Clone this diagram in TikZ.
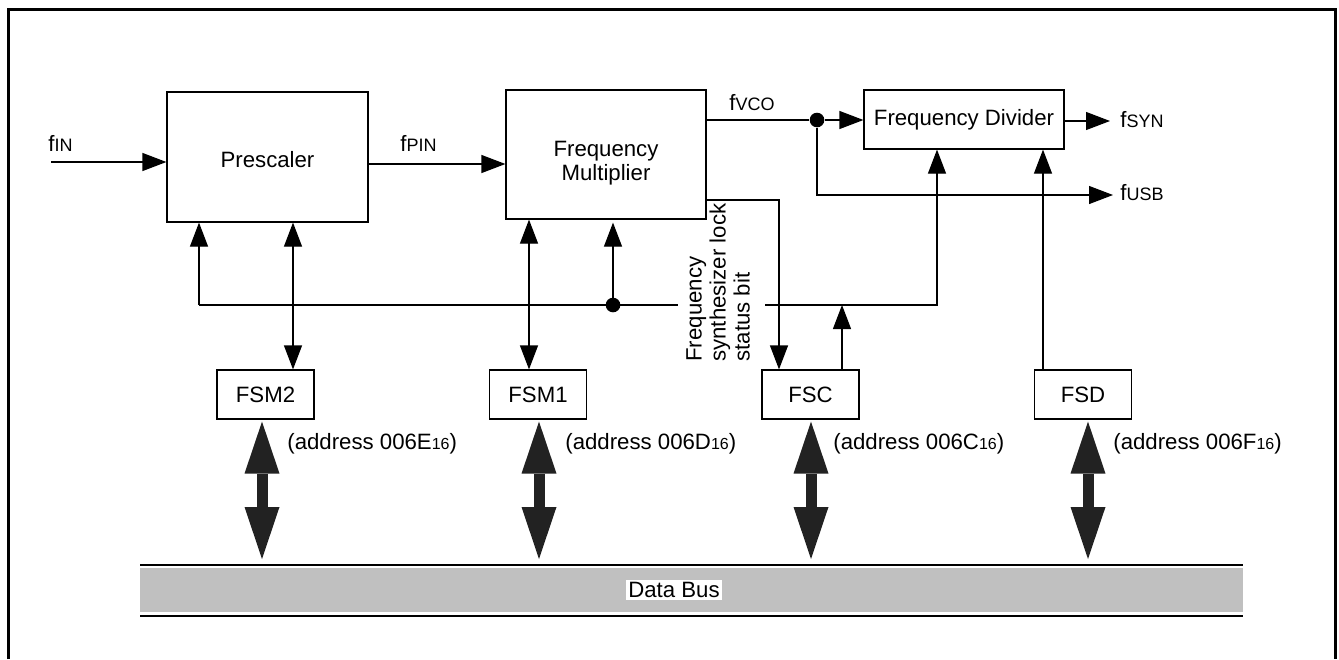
\documentclass[tikz,border=0pt]{standalone}
\usepackage{fontspec}
\setmainfont{Liberation Sans}
\usetikzlibrary{arrows.meta}
\definecolor{busgray}{RGB}{192,192,192}
\definecolor{bigc}{RGB}{34,34,34}
\newcommand\fsub[1]{{\fontsize{9}{9}\selectfont #1}}
\newcommand\adsub[1]{{\fontsize{8}{8}\selectfont #1}}
\begin{document}
\begin{tikzpicture}[x=0.5pt,y=-0.5pt,
  font=\fontsize{11.1}{12}\selectfont,
  box/.style={draw, line width=0.6pt, inner sep=0pt, align=center},
  sig/.style={line width=0.6pt},
  arr/.style={sig, -{Triangle[length=12pt,width=9pt]}},
  biarr/.style={sig, {Triangle[length=12pt,width=9pt]}-{Triangle[length=12pt,width=9pt]}},
  bigarr/.style={line width=5.5pt, draw=bigc, {Triangle[length=26pt,width=17.5pt,line width=0pt]}-{Triangle[length=26pt,width=17.5pt,line width=0pt]}, shorten <=1pt, shorten >=2.5pt},
  dot/.style={circle, fill, inner sep=0pt, minimum size=7.3pt},
  lbl/.style={inner sep=0pt, anchor=west}]
\useasboundingbox (0,0) rectangle (1339,659);
% frame
\draw[line width=1.15pt] (8.5,659) -- (8.5,9.5) -- (1335.5,9.5) -- (1335.5,659);
% boxes
\node[box, minimum width=100.5pt, minimum height=65pt] (pre) at (267.5,157) {};
\node[inner sep=0pt] (pretxt) at (267.5,160) {Prescaler};
\node[box, minimum width=100pt, minimum height=64.5pt] (mul) at (606,154.5) {};
\node[inner sep=0pt, align=center] (multxt) at (606,163) {Frequency\\Multiplier};
\node[box, minimum width=100pt, minimum height=29.5pt] (div) at (964,119.5) {Frequency Divider};
\node[box, minimum width=48.5pt, minimum height=24.5pt] (fsm2) at (265.5,394.5) {FSM2};
\node[box, minimum width=48.5pt, minimum height=24.5pt] (fsm1) at (538,394.5) {FSM1};
\node[box, minimum width=48.5pt, minimum height=24.5pt] (fsc) at (810.5,394.5) {FSC};
\node[box, minimum width=48.5pt, minimum height=24.5pt] (fsd) at (1083,394.5) {FSD};
% data bus
\path[fill=busgray] (140,568) rectangle (1243,612);
\draw[line width=1pt] (140,564.5) -- (1243,564.5);
\draw[line width=1pt] (140,615.5) -- (1243,615.5);
\coordinate (bustop) at (700,564);
\node[fill=white, inner sep=1pt] (buslbl) at (674,590) {Data Bus};
% input signals
\coordinate (in) at (51,162);
\draw[arr] (in) -- (in -| pre.west);
\node[lbl] (lin) at (48,143) {f\fsub{IN}};
\coordinate (pinY) at (437,164);
\draw[arr] (pre.east |- pinY) -- (mul.west |- pinY);
\node[lbl] (lpin) at (400,143) {f\fsub{PIN}};
% vco
\node[dot] (d1) at (817,120) {};
\draw[sig] (mul.east |- d1) -- (d1);
\draw[arr] (d1) -- (d1 -| div.west);
\node[lbl] (lvco) at (729,103) {f\fsub{VCO}};
\coordinate (usb) at (1113,195);
\draw[arr] (d1) -- (d1 |- usb) -- (usb);
\node[lbl] (lusb) at (1120,193) {f\fsub{USB}};
\coordinate (syn) at (1110,121);
\draw[arr] (div.east |- syn) -- (syn);
\node[lbl] (lsyn) at (1120,120) {f\fsub{SYN}};
% lock status
\coordinate (lk) at (779,200);
\draw[arr] (mul.east |- lk) -- (lk) -- (lk |- fsc.north);
\node[rotate=90, anchor=north west, align=left, inner sep=0pt] (lock) at (686,362) {Frequency\\synthesizer lock\\status bit};
% control line
\coordinate (cl) at (199,305);
\coordinate (gapL) at (678,305);
\coordinate (gapR) at (765,305);
\coordinate (cr) at (937,305);
\draw[arr] (cl) -- (pre.south -| cl);
\draw[sig] (cl) -- (gapL);
\draw[arr] (gapR) -- (cr) -- (div.south -| cr);
\node[dot] (d2) at (613,305) {};
\draw[arr, shorten >=1.5pt] (d2.center) -- (d2 |- mul.south);
\draw[arr] ([xshift=15.75pt]fsc.north) -- ([xshift=15.75pt]fsc.north |- cl);
% register links
\draw[biarr] ([xshift=13.75pt]fsm2.north) -- ([xshift=13.75pt]fsm2.north |- pre.south);
\draw[biarr] ([xshift=-4.5pt]fsm1.north) -- ([xshift=-4.5pt]fsm1.north |- mul.south);
\draw[arr] ([xshift=-20pt]fsd.north) -- ([xshift=-20pt]fsd.north |- div.south);
% big bus arrows
\draw[bigarr] ([xshift=-1.75pt]fsm2.south) -- ([xshift=-1.75pt]fsm2.south |- bustop);
\draw[bigarr] ([xshift=0.5pt]fsm1.south) -- ([xshift=0.5pt]fsm1.south |- bustop);
\draw[bigarr] ([xshift=0.25pt]fsc.south) -- ([xshift=0.25pt]fsc.south |- bustop);
\draw[bigarr] ([xshift=2.5pt]fsd.south) -- ([xshift=2.5pt]fsd.south |- bustop);
% address labels
\node[lbl] (a2) at (287,444) {(address 006E\adsub{16})};
\node[lbl] (a1) at (565,444) {(address 006D\adsub{16})};
\node[lbl] (ac) at (833,444) {(address 006C\adsub{16})};
\node[lbl] (ad) at (1113,444) {(address 006F\adsub{16})};
\end{tikzpicture}
\end{document}
